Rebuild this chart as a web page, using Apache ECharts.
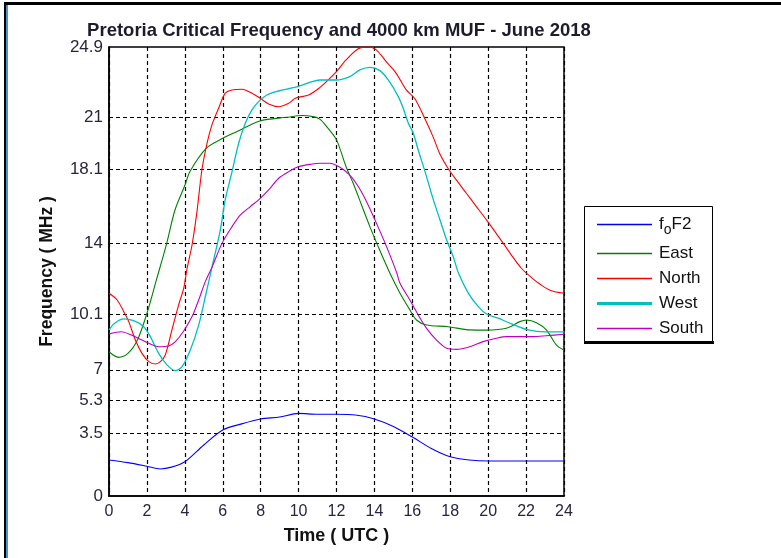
<!DOCTYPE html>
<html><head><meta charset="utf-8">
<script src="https://cdn.jsdelivr.net/npm/echarts@6/dist/echarts.min.js"></script>
<style>html,body{margin:0;padding:0;background:#fff}#c{width:781px;height:558px}</style>
</head><body><div id="c"></div>
<script>
const yTicks = [0, 3.5, 5.3, 7, 10.1, 14, 18.1, 21, 24.9];
const seriesNames = ['foF2', 'East', 'North', 'West', 'South'];
const foF2 = [[0,2.0],[1,1.85],[2,1.65],[2.7,1.5],[3.3,1.6],[4,1.9],[5,2.83],[6,3.66],[7,4.0],[8,4.27],[9,4.38],[10,4.58],[11,4.53],[12,4.53],[13,4.49],[14,4.27],[15,3.85],[16,3.27],[17,2.64],[18,2.18],[19,2.0],[20,1.94],[22,1.94],[24,1.94]];
const east = [[0,8.0],[0.5,7.69],[1,7.91],[1.5,8.65],[2,10.13],[2.5,11.98],[3.04,14.0],[3.48,15.86],[4.01,17.25],[4.27,18.0],[5.15,19.3],[6.03,19.85],[6.73,20.2],[7.96,20.8],[9.37,21.0],[10.16,21.1],[10.77,21.04],[11.12,20.9],[11.47,20.5],[12.0,19.75],[12.5,18.27],[12.88,17.34],[13.32,16.14],[13.76,14.94],[14.2,13.83],[14.82,12.35],[15.35,11.24],[15.87,10.32],[16.22,9.76],[16.75,9.48],[17.89,9.39],[19.03,9.21],[19.91,9.2],[20.96,9.3],[21.67,9.67],[22.02,9.76],[22.55,9.61],[23.07,9.21],[23.6,8.37],[24,8.1]];
const north = [[0,11.24],[0.43,10.87],[0.78,10.22],[1.04,9.67],[1.39,8.65],[1.74,7.91],[2.1,7.45],[2.45,7.32],[2.71,7.45],[2.97,7.82],[3.32,9.21],[3.67,10.59],[3.94,11.52],[4.12,12.63],[4.38,13.92],[4.64,15.77],[4.9,18.08],[5.17,19.56],[5.43,20.58],[5.78,21.5],[6.13,22.34],[6.49,22.52],[7.01,22.56],[7.54,22.34],[7.98,22.06],[8.42,21.74],[8.95,21.59],[9.48,21.78],[9.83,22.06],[10.53,22.24],[11.06,22.6],[11.47,22.98],[12.0,23.53],[12.5,24.18],[13.13,24.79],[13.65,24.92],[14.1,24.74],[14.62,24.09],[15.15,23.44],[15.68,22.52],[16.12,22.06],[16.65,20.95],[17.09,19.93],[17.44,19.0],[17.88,18.18],[18.32,17.53],[18.85,16.79],[19.38,16.05],[19.91,15.31],[20.61,14.29],[21.2,13.4],[21.75,12.63],[22.3,12.1],[22.8,11.7],[23.3,11.4],[24,11.24]];
const west = [[0,9.21],[0.3,9.58],[0.78,9.82],[1.3,9.72],[1.83,9.39],[2.18,8.84],[2.62,7.91],[3.06,7.27],[3.5,6.95],[3.85,7.17],[4.29,8.1],[4.73,9.48],[5.08,11.05],[5.43,12.68],[5.87,14.75],[6.13,16.42],[6.49,17.99],[6.84,19.56],[7.19,20.67],[7.54,21.41],[7.89,21.87],[8.33,22.24],[8.95,22.46],[9.83,22.67],[10.71,22.98],[11.12,23.07],[12.0,23.07],[12.7,23.26],[13.23,23.63],[13.76,23.77],[14.29,23.59],[14.73,23.07],[15.26,22.15],[15.52,21.5],[15.79,20.67],[16.05,20.12],[16.31,19.19],[16.67,17.99],[17.11,16.42],[17.46,15.31],[17.81,14.2],[18.16,13.27],[18.42,12.4],[18.96,11.24],[19.48,10.5],[19.92,10.09],[20.53,9.86],[21.24,9.54],[22.12,9.21],[23.0,9.1],[24,9.1]];
const south = [[0,8.99],[0.65,9.11],[1.18,8.93],[1.74,8.65],[2.18,8.43],[2.62,8.28],[3.15,8.32],[3.5,8.56],[3.94,9.15],[4.38,9.95],[4.73,10.87],[5.08,11.89],[5.43,12.68],[5.96,14.01],[6.49,14.94],[6.93,15.59],[7.45,16.05],[7.89,16.42],[8.42,16.97],[8.95,17.62],[9.48,17.99],[10.01,18.27],[10.71,18.41],[11.12,18.45],[11.64,18.45],[12.18,18.23],[12.7,17.8],[13.15,17.16],[13.58,16.33],[14.11,15.12],[14.64,13.83],[15.17,12.4],[15.35,11.8],[15.87,10.87],[16.31,10.04],[16.75,9.3],[17.28,8.65],[17.81,8.19],[18.33,8.13],[19.03,8.28],[19.73,8.56],[20.43,8.75],[20.96,8.84],[22.37,8.84],[23.07,8.89],[24,8.97]];
const colors = ['#0000ff', '#008000', '#ff0000', '#00bfbf', '#bf00bf'];
const dataSets = [foF2, east, north, west, south];

const FONT = 'Liberation Sans, Arial, sans-serif';
const chart = echarts.init(document.getElementById('c'), null, {renderer: 'canvas'});
const series = dataSets.map((d, i) => ({
  name: seriesNames[i], type: 'line', data: d, smooth: 0.3, symbol: 'none',
  lineStyle: {color: colors[i], width: i === 3 ? 1.3 : 1.1}, itemStyle: {color: colors[i]},
  z: 3
}));
series[0].markLine = {
  silent: true, symbol: 'none', label: {show: false},
  lineStyle: {color: '#000', type: [4, 3], width: 1.2},
  data: yTicks.slice(1, -1).map(v => ({yAxis: v})),
  z: 1
};
const lineIcon = h => 'path://M0,0 M55,14 M0,' + (7 - h / 2) + ' L55,' + (7 - h / 2) + ' L55,' + (7 + h / 2) + ' L0,' + (7 + h / 2) + ' Z';
chart.setOption({
  animation: false,
  backgroundColor: '#fff',
  title: {
    text: 'Pretoria Critical Frequency and 4000 km MUF - June 2018',
    left: 334, top: 16, textAlign: 'center',
    textStyle: {fontFamily: FONT, fontWeight: 'bold', fontSize: 18.5, color: '#1c1c2c'}
  },
  grid: {left: 109, right: 217, top: 47, bottom: 62, show: true, borderColor: '#000', borderWidth: 1.5, backgroundColor: 'transparent'},
  legend: {
    orient: 'vertical', left: 597, top: 216,
    padding: 0, itemGap: 8,
    itemWidth: 55, itemHeight: 14,
    data: seriesNames.map((n, i) => ({
      name: n, icon: lineIcon(i === 3 ? 3 : 1.3),
      itemStyle: {color: colors[i], borderColor: colors[i], borderWidth: 0, opacity: 1}
    })),
    formatter: n => n === 'foF2' ? '{a|f}{s|o}{a|F2}' : n,
    textStyle: {
      fontFamily: FONT, fontSize: 17, color: '#111', padding: [0, 0, 0, 2],
      rich: {a: {fontFamily: FONT, fontSize: 17, color: '#111'}, s: {fontFamily: FONT, fontSize: 14, color: '#111', verticalAlign: 'bottom', padding: [11, 0, 0, 0]}}
    },
    z: 5
  },
  xAxis: {
    type: 'value', min: 0, max: 24, interval: 2,
    name: 'Time ( UTC )', nameLocation: 'middle', nameGap: 31,
    nameTextStyle: {fontFamily: FONT, fontWeight: 'bold', fontSize: 18, color: '#111'},
    axisLine: {show: true, lineStyle: {color: '#000', width: 1.5}},
    axisTick: {show: false},
    axisLabel: {margin: 8, fontFamily: FONT, fontSize: 16, color: '#2a2440'},
    splitLine: {show: true, lineStyle: {color: '#000', type: [4, 3], width: 1.2}}
  },
  yAxis: {
    type: 'value', min: 0, max: 24.9,
    name: 'Frequency ( MHz )', nameLocation: 'middle', nameGap: 53,
    nameTextStyle: {fontFamily: FONT, fontWeight: 'bold', fontSize: 17.5, color: '#111'},
    axisLine: {show: true, lineStyle: {color: '#000', width: 1.5}},
    axisTick: {show: false},
    axisLabel: {margin: 6, fontFamily: FONT, fontSize: 17, color: '#2a2440', customValues: yTicks, showMinLabel: true, showMaxLabel: true},
    splitLine: {show: false}
  },
  graphic: [
    {type: 'rect', shape: {x: 4, y: 2, width: 777, height: 3}, style: {fill: '#000'}},
    {type: 'rect', shape: {x: 4, y: 2, width: 2, height: 556}, style: {fill: '#000'}},
    {type: 'rect', shape: {x: 6, y: 5, width: 2, height: 553}, style: {fill: '#4a8fd8'}},
    {type: 'rect', z: 1, shape: {x: 584, y: 341, width: 130, height: 3}, style: {fill: '#000'}},
    {type: 'rect', z: 1, shape: {x: 584.5, y: 206.5, width: 128, height: 135}, style: {fill: '#fff', stroke: '#000', lineWidth: 1}}
  ],
  series: series
});
</script></body></html>
